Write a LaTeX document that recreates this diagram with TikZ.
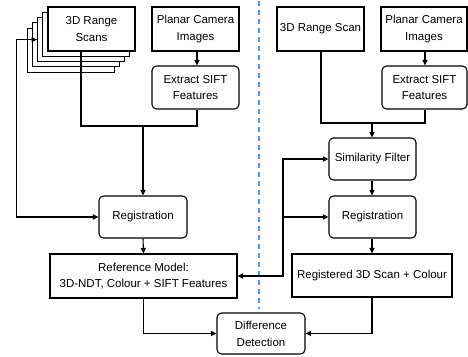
\documentclass[tikz,border=0pt]{standalone}
\usepackage{fontspec}
\setmainfont{Liberation Sans}
\usetikzlibrary{arrows.meta}
\definecolor{dashblue}{RGB}{100,140,245}
\begin{document}
\begin{tikzpicture}[x=1pt,y=-1pt,
  every node/.style={font=\fontsize{11.5}{16.8}\selectfont, align=center, inner sep=0pt},
  sqbox/.style={draw, line width=1.1pt, fill=white},
  rbox/.style={draw, line width=1.1pt, fill=white, rounded corners=4.5pt},
  conn/.style={line width=1.1pt},
  arr/.style={conn, -{Triangle[length=5.5pt,width=5pt]}},
  barr/.style={conn, {Triangle[length=5.5pt,width=5pt]}-{Triangle[length=5.5pt,width=5pt]}}]
\useasboundingbox (0,0) rectangle (468,356);
% stacked scans
\foreach \k in {4,3,2,1}{
  \node[sqbox, minimum width=87pt, minimum height=44pt] (st\k) at (91.5-5.2*\k, 29+5.3*\k) {};
}
\node[sqbox, minimum width=87pt, minimum height=44pt] (scanL) at (91.5,29) {3D Range\\Scans};
\node[sqbox, minimum width=87pt, minimum height=44pt] (camL) at (195.5,29) {Planar Camera\\Images};
\node[rbox, minimum width=87pt, minimum height=43pt] (siftL) at (195.5,87.5) {Extract SIFT\\Features};
\node[rbox, minimum width=88pt, minimum height=42pt] (regL) at (143,217) {Registration};
\node[sqbox, minimum width=187pt, minimum height=44pt] (refM) at (143.5,276) {Reference Model:\\3D-NDT, Colour + SIFT Features};
\node[rbox, minimum width=88pt, minimum height=41pt] (diff) at (261,333.5) {Difference\\Detection};
\node[sqbox, minimum width=87pt, minimum height=44pt] (scanR) at (320.5,29) {3D Range Scan};
\node[sqbox, minimum width=86pt, minimum height=44pt] (camR) at (424,29) {Planar Camera\\Images};
\node[rbox, minimum width=85pt, minimum height=43pt] (siftR) at (424.5,87.5) {Extract SIFT\\Features};
\node[rbox, minimum width=87pt, minimum height=42pt] (sim) at (372.5,159) {Similarity Filter};
\node[rbox, minimum width=87pt, minimum height=42pt] (regR) at (372.5,217) {Registration};
\node[sqbox, minimum width=160pt, minimum height=43pt] (regd) at (372,275.5) {Registered 3D Scan + Colour};
% dashed separator
\coordinate (dtop) at (259,1);
\coordinate (dbot) at (259,309);
\draw[dashblue, line width=1.4pt, dash pattern=on 5pt off 4pt] (dtop) -- (dbot);
% left connectors
\draw[arr] (camL.south -| 197,0) -- (siftL.north -| 197,0);
\coordinate (jL) at (143,126);
\draw[conn] (scanL.south -| 81,0) |- (jL) -| (siftL.south -| 197,0);
\draw[arr] (jL) -- (regL.north);
\draw[barr] (st2.west) -- (16.5,0 |- st2.west) |- (regL.west);
\draw[arr] (regL.south) -- (refM.north);
\draw[arr] (refM.south) |- (diff.west);
% right connectors
\draw[arr] (camR.south -| 425,0) -- (siftR.north -| 425,0);
\coordinate (jR) at (372,123);
\draw[conn] (scanR.south -| 321,0) |- (jR) -| (siftR.south -| 425,0);
\draw[arr] (jR) -- (sim.north -| 372,0);
\draw[arr] (sim.south -| 372,0) -- (regR.north -| 372,0);
\draw[arr] (regR.south -| 372,0) -- (regd.north -| 372,0);
\draw[arr] (regd.south) |- (diff.east);
\coordinate (jF) at (283,217);
\draw[barr] (sim.west) -| (jF) |- (refM.east);
\draw[arr] (jF) -- (regR.west);
\end{tikzpicture}
\end{document}
